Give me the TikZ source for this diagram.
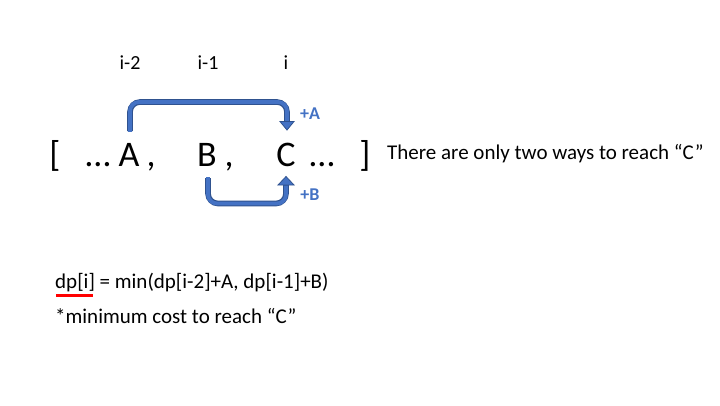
\documentclass[tikz,border=0pt]{standalone}
\usepackage{fontspec}
\setmainfont{Carlito}
\definecolor{arrblue}{HTML}{4472C4}
\definecolor{arrdark}{HTML}{2F528F}
\begin{document}
\begin{tikzpicture}[x=1pt,y=-1pt,
  big/.style={font=\fontsize{36}{40}\selectfont, anchor=base, inner sep=0pt},
  idx/.style={font=\fontsize{20}{22}\selectfont, anchor=base, inner sep=0pt},
  txt/.style={font=\fontsize{21}{24}\selectfont, anchor=base west, inner sep=0pt},
  lbl/.style={font=\bfseries\fontsize{18}{20}\selectfont, text=arrblue, inner sep=0pt},
  bandout/.style={line width=5.6pt, draw=arrdark, rounded corners=10pt},
  bandin/.style={line width=3.8pt, draw=arrblue, rounded corners=9pt},
  head/.style={fill=arrblue, draw=arrdark, line width=0.8pt, line join=miter}]
\useasboundingbox (0,0) rectangle (720,405);
\fill[white] (0,0) rectangle (720,405);
% index labels
\node[idx] (i2) at (130,69) {i-2};
\node[idx] (i1) at (208,69) {i-1};
\node[idx] (i0) at (286,69) {i};
% array row
\node[big] (lb) at (55,166) {[};
\node[big] (d1) at (98,166) {…};
\node[big] (A) at (129,166) {A};
\node[big] (c1) at (151,166) {,};
\node[big] (B) at (207,166) {B};
\node[big] (c2) at (229,166) {,};
\node[big] (C) at (286,166) {C};
\node[big] (d2) at (322,166) {…};
\node[big] (rb) at (365,166) {]};
\node[txt] (note) at (387,159) {There are only two ways to reach “C”};
% arrows
\coordinate (As) at (130,131);
\coordinate (Ae) at (287,121.5);
\coordinate (At) at (287,130);
\coordinate (Bs) at (208,178);
\coordinate (Be) at (286,185);
\coordinate (Bt) at (286,176.5);
\draw[bandout] (As) -- (As |- 0,102) -- (Ae |- 0,102) -- (Ae);
\draw[bandin] ([yshift=-0.8pt]As) -- (As |- 0,102) -- (Ae |- 0,102) -- ([yshift=0.5pt]Ae);
\draw[head] ([xshift=-7pt]Ae) -- ([xshift=7pt]Ae) -- (At) -- cycle;
\draw[bandout] (Bs) -- (Bs |- 0,203.5) -- (Be |- 0,203.5) -- (Be);
\draw[bandin] ([yshift=0.8pt]Bs) -- (Bs |- 0,203.5) -- (Be |- 0,203.5) -- ([yshift=-0.5pt]Be);
\draw[head] ([xshift=-8pt]Be) -- ([xshift=8pt]Be) -- (Bt) -- cycle;
\node[lbl] (pa) at (310,114) {+A};
\node[lbl] (pb) at (310,195) {+B};
% formula
\node[txt] (f1) at (55,288) {dp[i] = min(dp[i-2]+A, dp[i-1]+B)};
\node[txt] (f2) at (55,323) {*minimum cost to reach “C”};
\coordinate (u1) at (56,295.5);
\coordinate (u2) at (93,295.5);
\draw[red, line width=2.8pt] (u1) -- (u2);
\end{tikzpicture}
\end{document}
